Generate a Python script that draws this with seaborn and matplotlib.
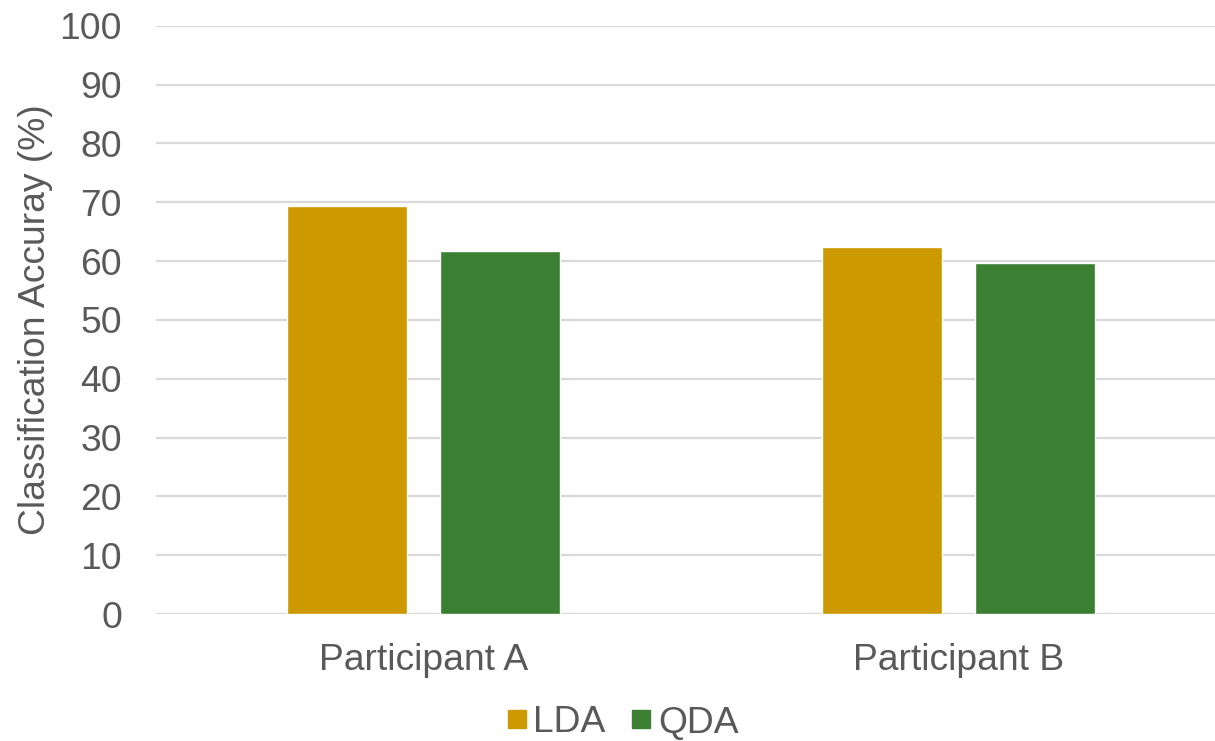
import matplotlib
matplotlib.use("Agg")
import matplotlib.pyplot as plt
from matplotlib.lines import Line2D
import seaborn as sns
import pandas as pd

participants = ["Participant A", "Participant B"]
methods = ["LDA", "QDA"]
lda_acc = [69.3, 62.3]
qda_acc = [61.7, 59.7]
y_ticks = [0, 10, 20, 30, 40, 50, 60, 70, 80, 90, 100]

colors = {"LDA": "#CC9900", "QDA": "#3B7F32"}
text_color = "#595959"
grid_color = "#D9D9D9"

df = pd.DataFrame({
    "Participant": participants * 2,
    "Method": ["LDA"] * len(participants) + ["QDA"] * len(participants),
    "Accuracy": lda_acc + qda_acc,
})

sns.set_theme(style="white")
plt.rcParams["font.family"] = ["Liberation Sans", "DejaVu Sans"]

fs = 26.8

fig = plt.figure(figsize=(12.15, 7.41), dpi=100)
ax = fig.add_axes([156 / 1215, 1 - 614 / 741, (1215 - 156) / 1215, (614 - 25.7) / 741])

sns.barplot(data=df, x="Participant", y="Accuracy", hue="Method",
            hue_order=methods, order=participants, palette=colors,
            width=0.572, gap=0.217, ax=ax, legend=False, saturation=1)

ax.set_ylim(0, 100)
ax.set_xlim(-0.5, 1.479)
ax.set_yticks(y_ticks)
ax.yaxis.grid(True, color=grid_color, linewidth=1.6)
ax.set_axisbelow(True)
for s in ax.spines.values():
    s.set_visible(False)
ax.tick_params(axis="both", length=0, labelsize=fs, labelcolor=text_color)
ax.tick_params(axis="y", pad=24.5)
ax.tick_params(axis="x", pad=21)
ax.set_xlabel("")
ax.set_ylabel("Classification Accuray (%)", fontsize=fs, color=text_color, labelpad=5)

handles = [Line2D([], [], marker="s", linestyle="none", markersize=13.5,
                  markerfacecolor=colors[m], markeredgecolor=colors[m]) for m in methods]
fig.legend(handles, methods, loc="center", bbox_to_anchor=(620 / 1215, 1 - 723 / 741),
           ncol=2, frameon=False, fontsize=fs, labelcolor=text_color,
           handletextpad=0.05, columnspacing=0.55, handlelength=0.8)

fig.savefig("out.png", dpi=100)
